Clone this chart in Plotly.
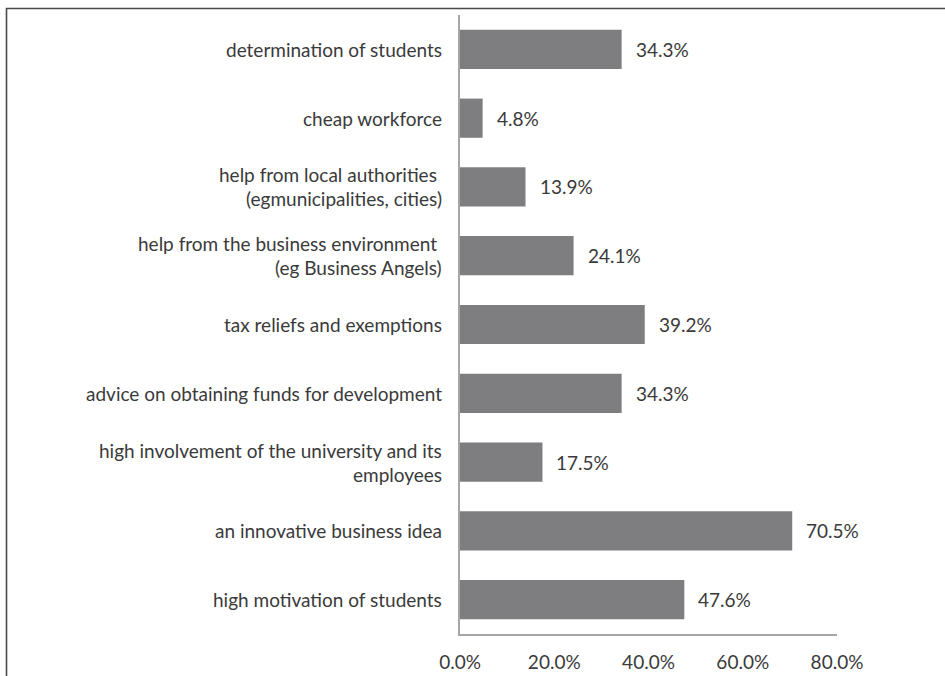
import plotly.graph_objects as go

# Survey results: factors supporting student start-ups (share of respondents, %)
categories = [
    "determination of students",
    "cheap workforce",
    "help from local authorities <br>(egmunicipalities, cities)",
    "help from the business environment <br>(eg Business Angels)",
    "tax reliefs and exemptions",
    "advice on obtaining funds for development",
    "high involvement of the university and its<br>employees",
    "an innovative business idea",
    "high motivation of students",
]
values = [34.3, 4.8, 13.9, 24.1, 39.2, 34.3, 17.5, 70.5, 47.6]
tick_vals = [0, 20, 40, 60, 80]
tick_text = ["0.0%", "20.0%", "40.0%", "60.0%", "80.0%"]

FONT = "Lato"
FSIZE = 19
TEXT_COLOR = "#3a3a3a"
BAR_COLOR = "#7e7e81"
AXIS_COLOR = "#a6a6a6"

W, H = 945, 676
L, R, T, B = 460, 108, 15, 42
LINE_H = 24

ids = list(range(len(categories)))

fig = go.Figure(
    go.Bar(
        x=values,
        y=ids,
        orientation="h",
        marker=dict(color=BAR_COLOR, line=dict(width=0)),
        hoverinfo="skip",
    )
)

annotations = []
# value labels to the right of each bar
for i, v in zip(ids, values):
    annotations.append(dict(
        x=v, y=i, xref="x", yref="y", text=f"{v:.1f}%",
        showarrow=False, xanchor="left", yanchor="middle", xshift=12,
        font=dict(family=FONT, size=FSIZE, color=TEXT_COLOR),
    ))
# category labels, one annotation per line for wider line spacing
for i, c in zip(ids, categories):
    lines = c.split("<br>")
    n = len(lines)
    for k, ln in enumerate(lines):
        annotations.append(dict(
            x=0, y=i, xref="paper", yref="y", text=ln.replace(" ", "&nbsp;") if ln.endswith(" ") else ln,
            showarrow=False, xanchor="right", yanchor="middle", xshift=-16,
            yshift=((n - 1) / 2 - k) * LINE_H,
            font=dict(family=FONT, size=FSIZE, color=TEXT_COLOR),
        ))

plot_h = H - T - B
plot_w = W - L - R

def px_x(p):
    return (p - L) / plot_w

def px_y(p):
    return (H - B - p) / plot_h

shapes = [
    # outer frame (left and top edges visible)
    dict(type="rect", xref="paper", yref="paper",
         x0=px_x(6.5), x1=px_x(960), y0=px_y(700), y1=px_y(8.5),
         line=dict(color="#4a4a4a", width=1.6), fillcolor="rgba(0,0,0,0)", layer="above"),
]

fig.update_layout(
    width=W, height=H,
    margin=dict(l=L, r=R, t=T, b=B, autoexpand=False),
    paper_bgcolor="white", plot_bgcolor="white",
    bargap=0.43,
    showlegend=False,
    annotations=annotations,
    shapes=shapes,
    xaxis=dict(
        range=[0, 80], tickvals=tick_vals, ticktext=tick_text,
        showgrid=False, zeroline=False, showline=True, linecolor=AXIS_COLOR, linewidth=1.5,
        ticks="", ticklabelstandoff=10, automargin=False,
        tickfont=dict(family=FONT, size=FSIZE, color=TEXT_COLOR),
        fixedrange=True,
    ),
    yaxis=dict(
        range=[len(categories) - 0.5, -0.5],
        showticklabels=False, showgrid=False, zeroline=False, automargin=False,
        showline=True, linecolor=AXIS_COLOR, linewidth=1.5, ticks="",
        fixedrange=True,
    ),
)

fig.write_html("out.html", config={"displayModeBar": False})
